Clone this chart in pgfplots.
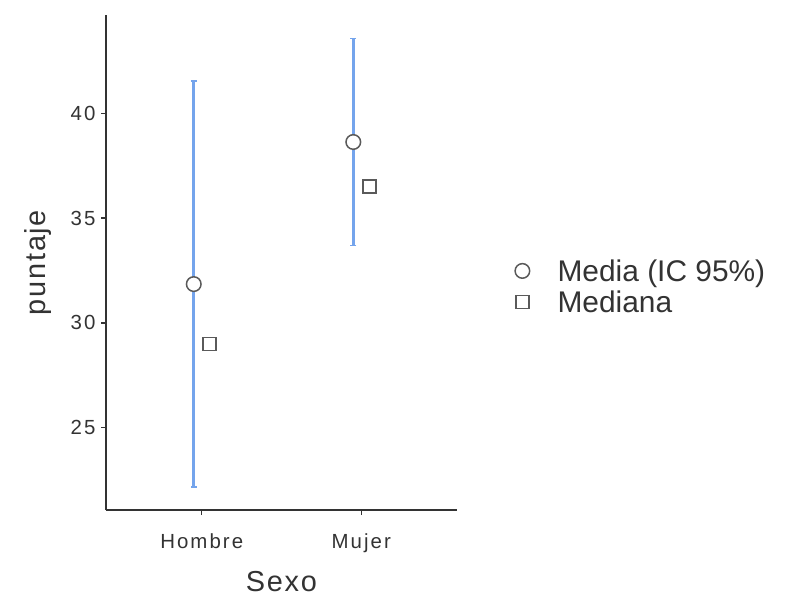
\documentclass[border=0pt]{standalone}
\usepackage{fontspec}
\setmainfont{Liberation Sans}
\newfontfamily\tickfont[LetterSpace=10]{Liberation Sans}
\newfontfamily\labfont[LetterSpace=6]{Liberation Sans}
\usepackage{pgfplots}
\pgfplotsset{compat=1.18}
\definecolor{cblue}{RGB}{116,164,236}
\definecolor{axgray}{RGB}{51,51,51}
\definecolor{mkgray}{RGB}{90,90,90}
\begin{document}
\begin{tikzpicture}
\useasboundingbox (0,0) rectangle (785bp,600bp);
\begin{axis}[
  at={(106bp,90bp)},
  anchor=south west,
  scale only axis,
  width=351bp, height=495bp,
  xmin=0.4, xmax=2.6,
  ymin=21.07, ymax=44.69,
  axis x line*=bottom, axis y line*=left,
  axis line style={axgray, line width=1.3bp, -},
  xtick={1,2}, xticklabels={Hombre,Mujer},
  ytick={25,30,35,40},
  tick align=outside,
  major tick length=5bp,
  tick style={axgray, line width=1.3bp},
  /pgf/number format/assume math mode=true,
  tick label style={font=\tickfont\fontsize{20.5}{24}\selectfont, text=axgray},
  xticklabel style={yshift=-15bp},
  yticklabel style={xshift=-2bp},
  xlabel={Sexo}, ylabel={puntaje},
  label style={font=\labfont\fontsize{29}{33}\selectfont, text=axgray},
  xlabel style={yshift=-12bp},
  ylabel style={yshift=12bp},
  clip=false,
  legend style={at={(1,0.5)}, anchor=west, xshift=57bp, yshift=-24bp,
     draw=none, fill=none, font=\fontsize{30}{33}\selectfont, text=axgray,
     inner sep=0pt, row sep=6bp,
     nodes={inner sep=1bp}},
  legend cell align=left,
  legend image code/.code={\path (0bp,0bp) (42bp,0bp);
     \draw[mark repeat=1,#1] plot coordinates {(8bp,0bp)};},
]
% error bars (95% CI)
\addplot[only marks, mark=none, forget plot,
  error bars/.cd, y dir=both, y explicit,
  error bar style={draw=cblue, line width=2.6bp},
  error mark options={rotate=90, draw=cblue, mark size=3.2bp, line width=1.5bp}]
  coordinates {
    (0.95,31.85) +- (0,9.69)
    (1.95,38.63) +- (0,4.95)
  };
% means
\addplot[only marks, mark=*, mark size=7.3bp,
  mark options={fill=white, draw=mkgray, line width=1.5bp}]
  coordinates {(0.95,31.85) (1.95,38.63)};
\addlegendentry{Media (IC 95\%)}
% medians
\addplot[only marks, mark=square, mark size=6.5bp,
  mark options={fill=white, draw=mkgray, line width=1.5bp}]
  coordinates {(1.05,29.0) (2.05,36.5)};
\addlegendentry{Mediana}
\end{axis}
\end{tikzpicture}
\end{document}
